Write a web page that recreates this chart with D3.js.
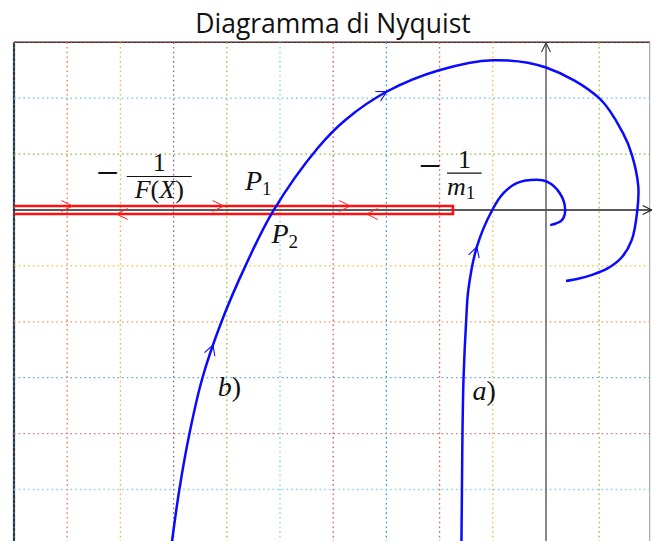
<!DOCTYPE html>
<html>
<head>
<meta charset="utf-8">
<script src="https://cdn.jsdelivr.net/npm/d3@7"></script>
<style>
  html, body { margin: 0; padding: 0; background: #fff; }
  svg { display: block; }
</style>
</head>
<body>
<svg id="chart" width="652" height="541"></svg>
<script>
// ---- Nyquist loci (real part, imaginary part) ----
// a) locus of G(jw) that ends near the origin
const curveARe = [-1.59, -1.58, -1.57, -1.55, -1.50, -1.46, -1.30, -1.01, -0.80, -0.55, -0.17, 0.01, 0.26, 0.36, 0.30, 0.08];
const curveAIm = [-6.00, -5.01, -3.99, -3.01, -1.97, -1.43, -0.66, 0.00, 0.30, 0.48, 0.54, 0.51, 0.30, 0.00, -0.18, -0.27];
// b) locus of G(jw) with the large loop
const curveBRe = [-7.04, -6.89, -6.70, -6.46, -6.10, -5.65, -5.13, -4.29, -3.76, -2.99, -2.01, -1.00, 0.00, 1.00, 1.45, 1.61, 1.735, 1.716, 1.611, 1.429, 1.165, 0.865, 0.602, 0.376];
const curveBIm = [-6.00, -4.99, -3.99, -3.01, -2.00, -1.00, -0.02, 1.11, 1.62, 2.12, 2.50, 2.68, 2.55, 2.00, 1.37, 1.00, 0.42, -0.01, -0.54, -0.84, -1.04, -1.16, -1.23, -1.27];

// -1/F(X) locus along the negative real axis
const locusStart = -10;
const locusEnd = -1.75;
const locusArrowsRight = [-8.9, -6.06, -3.68];
const locusArrowsLeft = [-8.07, -3.37];

// direction marks on the loci (points on each curve)
const arrowsA = [[-1.30, -0.66]];
const arrowsB = [[-6.25, -2.42], [-2.99, 2.12]];

// grid lines and their colours
const gridX = [-9, -8, -7, -6, -5, -4, -3, -2, -1, 1];
const gridXColors = ["#ea7a52", "#f2b534", "#9a5a9e", "#93c84a", "#86d2f2", "#cf5a72", "#3a94d8", "#dd6a45", "#f2bb3e", "#93c84a"];
const gridY = [2, 1, -1, -2, -3, -4, -5, -6];
const gridYColors = ["#5cc4ee", "#86bd3c", "#f5bd38", "#f09266", "#62a8d8", "#c87a90", "#86d2f2", "#f2b534"];

const svg = d3.select("#chart");

const x = d3.scaleLinear().domain([-10, 2]).range([14, 652.4]);
const y = d3.scaleLinear().domain([3, -6]).range([42.3, 545.4]);

const xMin = -10, xMax = 1.95, yMax = 3, yMin = -6.2;

// ---- title ----
svg.append("text")
  .attr("x", 333).attr("y", 33)
  .attr("text-anchor", "middle")
  .style("font-family", "'Open Sans', 'DejaVu Sans', sans-serif")
  .style("font-size", "26.5px")
  .style("fill", "#111")
  .text("Diagramma di Nyquist");

// ---- frame ----
const frame = svg.append("g");
frame.append("line")
  .attr("x1", x(xMin)).attr("x2", x(xMin)).attr("y1", y(yMax)).attr("y2", y(yMin))
  .attr("stroke", "#333").attr("stroke-width", 2.2);
frame.append("line")
  .attr("x1", x(xMin)).attr("x2", x(xMax)).attr("y1", y(yMax)).attr("y2", y(yMax))
  .attr("stroke", "#333").attr("stroke-width", 1.5);
frame.append("line")
  .attr("x1", x(xMax)).attr("x2", x(xMax)).attr("y1", y(yMax)).attr("y2", y(yMin))
  .attr("stroke", "#999").attr("stroke-width", 1);
// coloured dotted lines over the left and top borders
frame.append("line")
  .attr("x1", x(xMin)).attr("x2", x(xMin)).attr("y1", y(yMax)).attr("y2", y(yMin))
  .attr("stroke", "#2f86c8").attr("stroke-width", 1.3).attr("stroke-dasharray", "1.6 3.1");
frame.append("line")
  .attr("x1", x(xMin)).attr("x2", x(xMax)).attr("y1", y(yMax)).attr("y2", y(yMax))
  .attr("stroke", "#c0392b").attr("stroke-width", 1.2).attr("stroke-dasharray", "1.6 3.1");

// ---- dotted grid ----
const grid = svg.append("g");
grid.selectAll("line.gx").data(gridX).join("line")
  .attr("class", "gx")
  .attr("x1", d => x(d)).attr("x2", d => x(d))
  .attr("y1", y(yMax)).attr("y2", y(yMin))
  .attr("stroke", (d, i) => gridXColors[i])
  .attr("stroke-width", 1.3)
  .attr("stroke-dasharray", "1.6 3.1");
grid.selectAll("line.gy").data(gridY).join("line")
  .attr("class", "gy")
  .attr("x1", x(xMin)).attr("x2", x(xMax))
  .attr("y1", d => y(d)).attr("y2", d => y(d))
  .attr("stroke", (d, i) => gridYColors[i])
  .attr("stroke-width", 1.3)
  .attr("stroke-dasharray", "1.6 3.1");

// ---- axes with open arrow heads ----
function chevron(g, tipX, tipY, angle, len, half, color, width) {
  const c = Math.cos(angle), s = Math.sin(angle);
  const bx = tipX - len * c, by = tipY - len * s;
  const p1 = [bx - half * s, by + half * c];
  const p2 = [bx + half * s, by - half * c];
  g.append("path")
    .attr("d", `M${p1[0]},${p1[1]} L${tipX},${tipY} L${p2[0]},${p2[1]}`)
    .attr("fill", "none")
    .attr("stroke", color)
    .attr("stroke-width", width)
    .attr("stroke-linejoin", "miter");
}

const axes = svg.append("g");
axes.append("line")
  .attr("x1", x(xMin)).attr("x2", x(2) - 0.5).attr("y1", y(0)).attr("y2", y(0))
  .attr("stroke", "#222").attr("stroke-width", 1.3);
axes.append("line")
  .attr("x1", x(0)).attr("x2", x(0)).attr("y1", y(yMin)).attr("y2", y(yMax) + 0.5)
  .attr("stroke", "#555").attr("stroke-width", 1.4);
chevron(axes, x(2) - 0.8, y(0), 0, 9, 4.5, "#222", 1.1);
chevron(axes, x(0), y(yMax) + 0.8, -Math.PI / 2, 9, 4.5, "#333", 1.1);

// ---- -1/F(X) locus drawn as a thin closed strip on the real axis ----
const halfStrip = 4;
const locus = svg.append("g");
locus.append("path")
  .attr("d", `M${x(locusStart)},${y(0) - halfStrip} L${x(locusEnd)},${y(0) - halfStrip} L${x(locusEnd)},${y(0) + halfStrip} L${x(locusStart)},${y(0) + halfStrip}`)
  .attr("fill", "none")
  .attr("stroke", "#ff1010")
  .attr("stroke-width", 2.7)
  .attr("stroke-linejoin", "miter");
locusArrowsRight.forEach(v => chevron(locus, x(v), y(0) - halfStrip, 0, 11, 5.5, "#ff2020", 1));
locusArrowsLeft.forEach(v => chevron(locus, x(v), y(0) + halfStrip, Math.PI, 11, 5.5, "#ff2020", 1));

// ---- Nyquist curves ----
const line = d3.line()
  .x(d => x(d[0]))
  .y(d => y(d[1]))
  .curve(d3.curveCatmullRom.alpha(0.5));

function drawLocus(re, im, marks) {
  const pts = re.map((v, i) => [v, im[i]]);
  const path = svg.append("path")
    .datum(pts)
    .attr("d", line)
    .attr("fill", "none")
    .attr("stroke", "#0a0aff")
    .attr("stroke-width", 2.5)
    .attr("stroke-linecap", "butt");
  const node = path.node();
  const total = node.getTotalLength();
  const g = svg.append("g");
  marks.forEach(m => {
    const tx = x(m[0]), ty = y(m[1]);
    let best = 0, bestD = Infinity;
    for (let l = 0; l <= total; l += 0.5) {
      const p = node.getPointAtLength(l);
      const dd = (p.x - tx) ** 2 + (p.y - ty) ** 2;
      if (dd < bestD) { bestD = dd; best = l; }
    }
    const p = node.getPointAtLength(best);
    const a = node.getPointAtLength(Math.max(0, best - 2));
    const b = node.getPointAtLength(Math.min(total, best + 2));
    const ang = Math.atan2(b.y - a.y, b.x - a.x);
    chevron(g, p.x, p.y, ang, 10, 5.5, "#0a0aff", 1.1);
  });
}

drawLocus(curveARe, curveAIm, arrowsA);
drawLocus(curveBRe, curveBIm, arrowsB);

// ---- math labels ----
const mathFont = "'Liberation Serif', 'DejaVu Serif', serif";
const lab = svg.append("g").style("fill", "#111").style("font-family", mathFont);

function mathText(px, py, parts, anchor, size) {
  const t = lab.append("text").attr("x", px).attr("y", py)
    .attr("text-anchor", anchor || "start")
    .style("font-size", (size || 28) + "px");
  parts.forEach(p => {
    const ts = t.append("tspan").text(p.t)
      .style("font-style", p.it ? "italic" : "normal");
    if (p.sub) ts.style("font-size", "19px").attr("dy", p.dy);
    else if (p.dy) ts.attr("dy", p.dy);
  });
  return t;
}

function minusSign(px, py) {
  lab.append("text").attr("x", px).attr("y", py)
    .attr("text-anchor", "middle")
    .style("font-size", "40px")
    .text("\u2212");
}

// -1/F(X)
minusSign(x(-8.24), y(0.6) + 10);
lab.append("line")
  .attr("x1", x(-7.88)).attr("x2", x(-6.66))
  .attr("y1", y(0.6)).attr("y2", y(0.6))
  .attr("stroke", "#111").attr("stroke-width", 1.1);
mathText(x(-7.27), y(0.6) - 5.5, [{ t: "1" }], "middle", 26);
mathText(x(-7.27), y(0.6) + 21.5, [{ t: "F", it: true }, { t: "(" }, { t: "X", it: true }, { t: ")" }], "middle", 26);

// P1 and P2
mathText(x(-5.66), y(0.36), [{ t: "P", it: true }, { t: "1", sub: true, dy: 5 }]);
mathText(x(-5.16), y(-0.59), [{ t: "P", it: true }, { t: "2", sub: true, dy: 5 }]);

// -1/m1
minusSign(x(-2.18), y(0.66) + 6);
lab.append("line")
  .attr("x1", x(-1.86)).attr("x2", x(-1.21))
  .attr("y1", y(0.66)).attr("y2", y(0.66))
  .attr("stroke", "#111").attr("stroke-width", 1.1);
mathText(x(-1.53), y(0.66) - 5, [{ t: "1" }], "middle", 26);
mathText(x(-1.86), y(0.66) + 22, [{ t: "m", it: true }, { t: "1", sub: true, dy: 4 }], "start", 26);

// curve labels
mathText(x(-6.17), y(-3.33), [{ t: "b", it: true }, { t: ")" }]);
mathText(x(-1.38), y(-3.40), [{ t: "a", it: true }, { t: ")" }]);
</script>
</body>
</html>
